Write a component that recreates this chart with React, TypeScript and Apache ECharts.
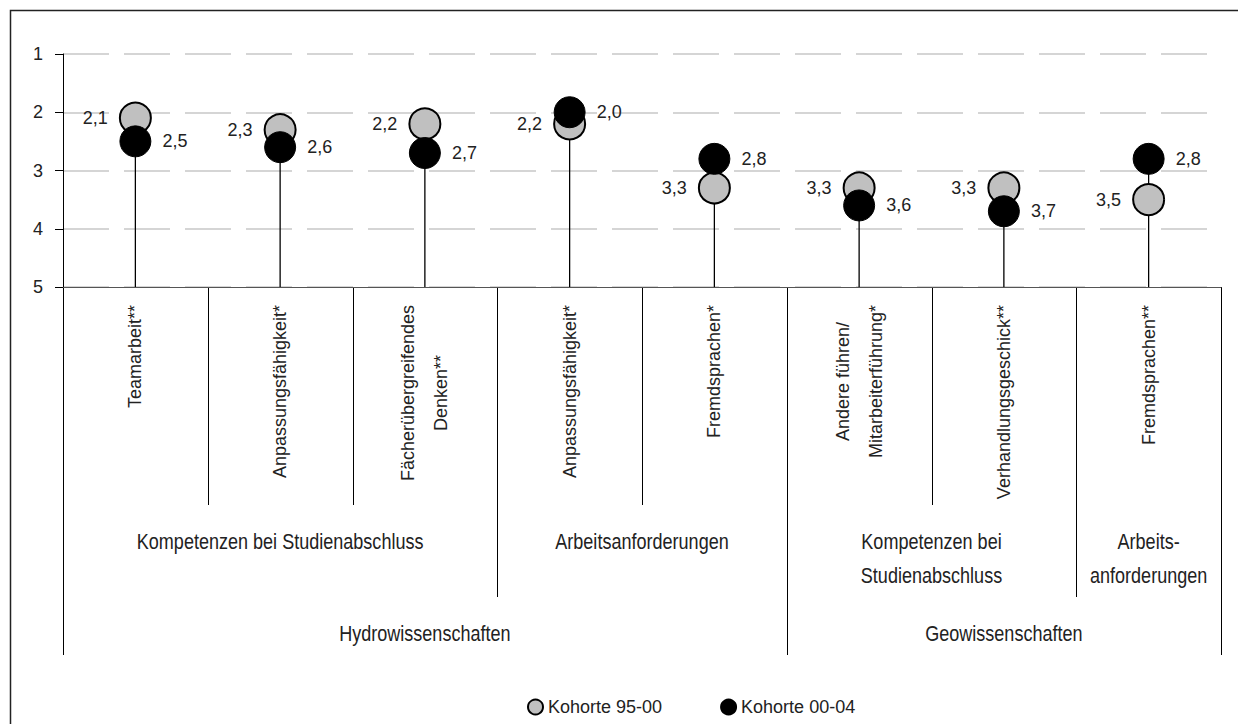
import React, { useEffect, useRef } from "react";
import * as echarts from "echarts";

// ---------- data ----------
const categories = [
  "Teamarbeit**",
  "Anpassungsfähigkeit*",
  "Fächerübergreifendes\nDenken**",
  "Anpassungsfähigkeit*",
  "Fremdsprachen*",
  "Andere führen/\nMitarbeiterführung*",
  "Verhandlungsgeschick**",
  "Fremdsprachen**",
];
const seriesNames = ["Kohorte 95-00", "Kohorte 00-04"];
const kohorte9500 = [2.1, 2.3, 2.2, 2.2, 3.3, 3.3, 3.3, 3.5];
const kohorte0004 = [2.5, 2.6, 2.7, 2.0, 2.8, 3.6, 3.7, 2.8];
const yTicks = [1, 2, 3, 4, 5];
const subGroups = [
  { name: "Kompetenzen bei Studienabschluss", from: 0, to: 3 },
  { name: "Arbeitsanforderungen", from: 3, to: 5 },
  { name: "Kompetenzen bei\nStudienabschluss", from: 5, to: 7 },
  { name: "Arbeits-\nanforderungen", from: 7, to: 8 },
];
const mainGroups = [
  { name: "Hydrowissenschaften", from: 0, to: 5 },
  { name: "Geowissenschaften", from: 5, to: 8 },
];

// ---------- styles ----------
const SANS = "'Liberation Sans', Arial, sans-serif";
const TEXT = "#222";
const fmt = (v: number) => v.toFixed(1).replace(".", ",");

export default function App() {
  const ref = useRef<HTMLDivElement>(null);

  useEffect(() => {
    const chart = echarts.init(ref.current!, null, { renderer: "svg" });
    const yMin = yTicks[0];
    const yMax = yTicks[yTicks.length - 1];

    const option: any = {
      animation: false,
      backgroundColor: "#fff",
      grid: { left: 63, right: 17, top: 54, bottom: 437 },
      legend: {
        data: seriesNames,
        left: 522,
        top: 693,
        icon: "circle",
        itemWidth: 15,
        itemHeight: 15,
        itemGap: 58,
        textStyle: { fontFamily: SANS, fontSize: 18, color: TEXT },
      },
      xAxis: {
        type: "category",
        data: categories,
        boundaryGap: true,
        axisLine: { show: true, lineStyle: { color: "#555", width: 1 } },
        axisTick: { show: false },
        splitLine: { show: false },
        axisLabel: {
          interval: 0,
          rotate: 90,
          margin: 18,
          hideOverlap: false,
          formatter: (v: string) => v.split("\n").map((s) => `{c|${s}}`).join("\n"),
          rich: {
            c: { align: "center", fontFamily: SANS, fontSize: 18, lineHeight: 33, color: TEXT },
          },
        },
      },
      yAxis: {
        type: "value",
        inverse: true,
        min: yMin,
        max: yMax,
        interval: 1,
        axisLine: { show: true, lineStyle: { color: "#000", width: 1 } },
        axisTick: { show: true, length: 8, lineStyle: { color: "#000" } },
        axisLabel: { margin: 20, fontFamily: SANS, fontSize: 18, color: TEXT },
        splitLine: { show: true, lineStyle: { color: "#c8c8c8", width: 1.5, type: [46, 15] } },
      },
      series: [
        {
          type: "custom",
          name: "stems",
          silent: true,
          z: 1,
          data: categories.map((_, i) => [i, Math.min(kohorte9500[i], kohorte0004[i])]),
          renderItem: (params: any, api: any) => {
            const top = api.coord([api.value(0), api.value(1)]);
            const base = api.coord([api.value(0), yMax]);
            return {
              type: "line",
              shape: { x1: top[0], y1: top[1], x2: base[0], y2: base[1] },
              style: { stroke: "#000", lineWidth: 1.3 },
            };
          },
        },
        {
          type: "scatter",
          name: seriesNames[0],
          z: 2,
          symbol: "circle",
          symbolSize: 31,
          data: kohorte9500.map((v, i) => [i, v]),
          itemStyle: { color: "#c0c0c0", borderColor: "#000", borderWidth: 2, opacity: 1 },
          label: {
            show: true,
            position: "left",
            distance: 11,
            formatter: (p: any) => fmt(p.value[1]),
            fontFamily: SANS,
            fontSize: 18,
            color: TEXT,
          },
        },
        {
          type: "scatter",
          name: seriesNames[1],
          z: 3,
          symbol: "circle",
          symbolSize: 31,
          data: kohorte0004.map((v, i) => [i, v]),
          itemStyle: { color: "#000", borderColor: "#000", borderWidth: 1, opacity: 1 },
          label: {
            show: true,
            position: "right",
            distance: 11,
            formatter: (p: any) => fmt(p.value[1]),
            fontFamily: SANS,
            fontSize: 18,
            color: TEXT,
          },
        },
      ],
    };
    chart.setOption(option);

    // ---- hierarchical category labels, positioned via the axis scale ----
    const p0 = chart.convertToPixel({ xAxisIndex: 0 }, 0) as number;
    const p1 = chart.convertToPixel({ xAxisIndex: 0 }, 1) as number;
    const w = p1 - p0;
    const baseY = chart.convertToPixel({ yAxisIndex: 0 }, yMax) as number;
    const bx = (k: number) => p0 + (k - 0.5) * w;

    const levelOf = (k: number) => {
      if (mainGroups.some((g) => g.from === k || g.to === k)) return 3;
      if (subGroups.some((g) => g.from === k || g.to === k)) return 2;
      return 1;
    };
    const depth: Record<number, number> = { 1: 218, 2: 310, 3: 368 };

    const elements: any[] = [
      {
        type: "rect",
        id: "frame",
        shape: { x: 10.5, y: 10.5, width: 1300, height: 800 },
        style: { fill: "none", stroke: "#222", lineWidth: 1.5 },
        silent: true,
        z: 0,
      },
    ];
    for (let k = 0; k <= categories.length; k++) {
      const x = Math.round(bx(k)) + 0.5;
      elements.push({
        type: "line",
        id: "sep" + k,
        shape: { x1: x, y1: baseY, x2: x, y2: baseY + depth[levelOf(k)] },
        style: { stroke: "#000", lineWidth: 1 },
        silent: true,
      });
    }
    subGroups.forEach((g, i) => {
      elements.push({
        type: "text",
        id: "sub" + i,
        x: p0 + ((g.from + g.to) / 2 - 0.5) * w,
        y: baseY + 237,
        scaleX: 0.82,
        style: {
          text: g.name,
          fill: TEXT,
          fontFamily: SANS,
          fontSize: 22,
          lineHeight: 34,
          align: "center",
          verticalAlign: "top",
        },
        silent: true,
      });
    });
    mainGroups.forEach((g, i) => {
      elements.push({
        type: "text",
        id: "main" + i,
        x: p0 + ((g.from + g.to) / 2 - 0.5) * w,
        y: baseY + 346,
        scaleX: 0.82,
        style: {
          text: g.name,
          fill: TEXT,
          fontFamily: SANS,
          fontSize: 22,
          align: "center",
          verticalAlign: "middle",
        },
        silent: true,
      });
    });
    chart.setOption({ graphic: elements });

    return () => chart.dispose();
  }, []);

  return (
    <div
      ref={ref}
      style={{ position: "fixed", left: 0, top: 0, width: 1238, height: 724, background: "#fff" }}
    />
  );
}
